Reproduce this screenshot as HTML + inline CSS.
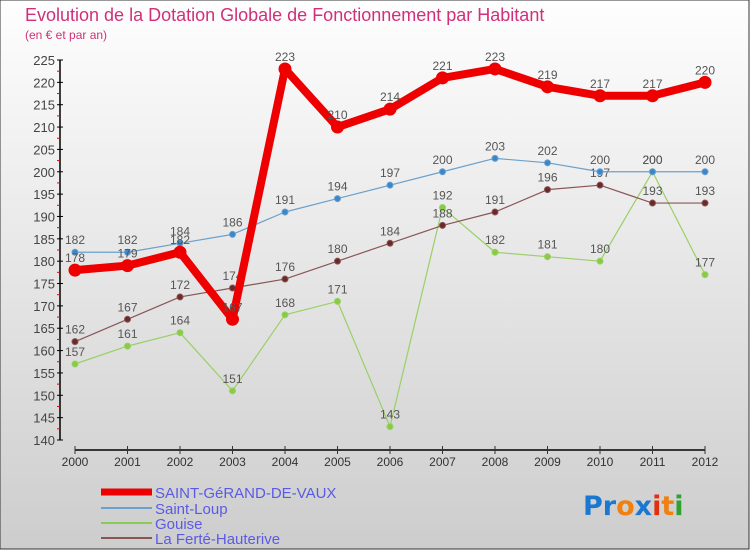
<!DOCTYPE html>
<html><head><meta charset="utf-8"><style>
body{margin:0}
#c{position:relative;width:750px;height:550px;overflow:hidden;font-family:"Liberation Sans",sans-serif}
</style></head><body>
<div id="c">
<svg width="750" height="550" xmlns="http://www.w3.org/2000/svg" id="svg">
<defs><linearGradient id="bg" x1="0" y1="0" x2="0" y2="1"><stop offset="0" stop-color="#fefefe"/><stop offset="1" stop-color="#cdcdcd"/></linearGradient></defs>
<rect x="0" y="0" width="749" height="549" fill="url(#bg)" stroke="#333" stroke-width="1"/>
<text x="25" y="21" font-size="18" fill="#d0307a">Evolution de la Dotation Globale de Fonctionnement par Habitant</text>
<text x="25" y="39" font-size="12" fill="#d0307a">(en € et par an)</text>
<g id="axes"></g><g id="series"></g>
<g>
<line x1="101" y1="492" x2="152" y2="492" stroke="#e00" stroke-width="7"/>
<text x="155" y="498" font-size="15" fill="#5a5ae6">SAINT-GéRAND-DE-VAUX</text>
<line x1="101" y1="508" x2="152" y2="508" stroke="#6aa0cc" stroke-width="2"/>
<text x="155" y="514" font-size="15" fill="#5a5ae6">Saint-Loup</text>
<line x1="101" y1="523" x2="152" y2="523" stroke="#88cc55" stroke-width="2"/>
<text x="155" y="529" font-size="15" fill="#5a5ae6">Gouise</text>
<line x1="101" y1="538" x2="152" y2="538" stroke="#8a5555" stroke-width="2"/>
<text x="155" y="544" font-size="15" fill="#5a5ae6">La Ferté-Hauterive</text>
</g>
<g font-size="27" font-family="'DejaVu Sans',sans-serif" font-weight="bold">
<text x="583" y="515"><tspan fill="#1a78d0">Pr</tspan><tspan fill="#f08010">o</tspan><tspan fill="#1a78d0">x</tspan><tspan fill="#e03010">i</tspan><tspan fill="#f08010">t</tspan><tspan fill="#30a030">i</tspan></text>
</g>
</svg></div>
<script>
const years=[2000,2001,2002,2003,2004,2005,2006,2007,2008,2009,2010,2011,2012];
const yTicks=[140,145,150,155,160,165,170,175,180,185,190,195,200,205,210,215,220,225];
const sgv=[178,179,182,167,223,210,214,221,223,219,217,217,220];
const saintLoup=[182,182,184,186,191,194,197,200,203,202,200,200,200];
const gouise=[157,161,164,151,168,171,143,192,182,181,180,200,177];
const laFerte=[162,167,172,174,176,180,184,188,191,196,197,193,193];
const NS="http://www.w3.org/2000/svg";
const xS=i=>75+i*52.5;
const yS=v=>440-(v-140)*(380/85);
function mk(tag,attrs,parent){const e=document.createElementNS(NS,tag);for(const k in attrs)e.setAttribute(k,attrs[k]);parent.appendChild(e);return e;}
const ax=document.getElementById('axes');
const yl=mk('line',{x1:60,y1:yS(225),x2:60,y2:yS(140),stroke:'#000','stroke-width':1.5},ax);


yTicks.forEach(v=>{
 mk('line',{x1:57,y1:yS(v),x2:63,y2:yS(v),stroke:'#000'},ax);
 if(v<225) mk('line',{x1:57,y1:yS(v+2.5),x2:60,y2:yS(v+2.5),stroke:'#e00'},ax);
 const t=mk('text',{x:55,y:yS(v)+5,'text-anchor':'end','font-size':13,fill:'#444'},ax);t.textContent=v;
 
 
});
const xl=mk('line',{x1:xS(0),y1:450,x2:xS(12),y2:450,stroke:'#000','stroke-width':1.5},ax);


years.forEach((y,i)=>{
 mk('line',{x1:xS(i),y1:446,x2:xS(i),y2:454,stroke:'#333'},ax);
 const t=mk('text',{x:xS(i),y:466,'text-anchor':'middle','font-size':12,fill:'#333'},ax);t.textContent=y;
 
 
});
const sg=document.getElementById('series');
function draw(vals,color,w,r,name,fill){
 const g=mk('g',{},sg);
 
 
 mk('polyline',{points:vals.map((v,i)=>xS(i)+','+yS(v)).join(' '),fill:'none',stroke:color,'stroke-width':w,'stroke-linejoin':'round'},g);
 vals.forEach((v,i)=>{
  const c=mk('circle',{cx:xS(i),cy:yS(v),r:r,fill:fill,stroke:color,'stroke-width':1},g);
  
  
  const t=mk('text',{x:xS(i),y:yS(v)-8,'text-anchor':'middle','font-size':12,fill:'#555'},g);t.textContent=v;
  
  
 });
}
draw(gouise,'#99d066',1.2,3,'gouise','#88cc44');
draw(laFerte,'#8a5555',1.2,3,'la-ferte','#6a2a2a');
draw(saintLoup,'#6aa0cc',1.2,3,'saint-loup','#3a86cc');
draw(sgv,'#ee0000',8,6,'saint-gerand','#ee0000');
</script>
</body></html>
